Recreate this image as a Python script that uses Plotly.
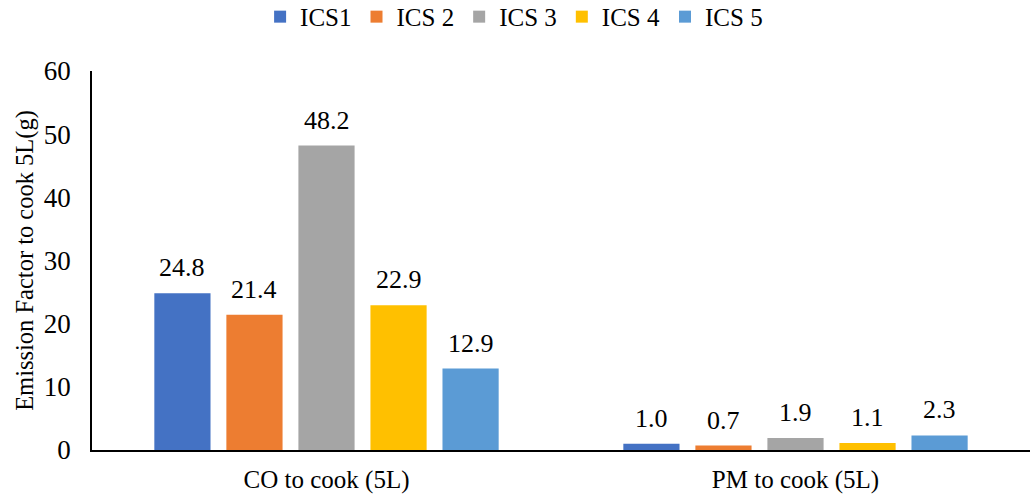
import plotly.graph_objects as go

categories = ["CO to cook (5L)", "PM to cook (5L)"]
series_names = ["ICS1", "ICS 2", "ICS 3", "ICS 4", "ICS 5"]
ics1 = [24.8, 1.0]
ics2 = [21.4, 0.7]
ics3 = [48.2, 1.9]
ics4 = [22.9, 1.1]
ics5 = [12.9, 2.3]
series_values = [ics1, ics2, ics3, ics4, ics5]
colors = ["#4472C4", "#ED7D31", "#A5A5A5", "#FFC000", "#5B9BD5"]
y_ticks = [0, 10, 20, 30, 40, 50, 60]

FONT = "Liberation Serif, Times New Roman, serif"

WIDTH, HEIGHT = 1030, 497
MARGIN = dict(l=92, r=0, t=71, b=47)
BARGAP = 0.232

fig = go.Figure()
for name, vals, col in zip(series_names, series_values, colors):
    fig.add_trace(go.Bar(
        name=name,
        x=categories,
        y=vals,
        marker=dict(color=col, line=dict(width=0)),
    ))

# value labels above each bar, offset horizontally to the bar's slot in its group
cat_px = (WIDTH - MARGIN["l"] - MARGIN["r"]) / len(categories)
slot_px = cat_px * (1 - BARGAP) / len(series_names)
n = len(series_names)
for i, vals in enumerate(series_values):
    for cat, v in zip(categories, vals):
        fig.add_annotation(
            x=cat, y=v, text=f"{v:.1f}",
            showarrow=False, yanchor="bottom", yshift=9,
            xshift=(i - (n - 1) / 2) * slot_px,
            font=dict(family=FONT, size=26, color="#000000"),
        )

fig.update_layout(
    width=WIDTH, height=HEIGHT,
    margin=MARGIN,
    paper_bgcolor="white",
    plot_bgcolor="white",
    barmode="group",
    bargap=BARGAP,
    bargroupgap=0.22,
    font=dict(family=FONT, size=24, color="#000000"),
    showlegend=True,
    legend=dict(
        orientation="h",
        x=0.45, xanchor="center",
        y=0.966, yanchor="middle",
        yref="container",
        font=dict(family=FONT, size=25),
        itemsizing="constant",
        traceorder="normal",
    ),
)

fig.update_xaxes(
    showline=True, linecolor="#000000", linewidth=1.5,
    ticks="", showgrid=False,
    tickfont=dict(family=FONT, size=25),
    ticklabelstandoff=6,
)
fig.update_yaxes(
    range=[0, 60],
    tickvals=y_ticks,
    showline=True, linecolor="#000000", linewidth=1.5,
    ticks="", showgrid=False, zeroline=False,
    tickfont=dict(family=FONT, size=27),
    title=dict(text="Emission Factor to cook 5L(g)", font=dict(family=FONT, size=24.5), standoff=3),
    ticklabelstandoff=14,
)

fig.write_html("out.html")
